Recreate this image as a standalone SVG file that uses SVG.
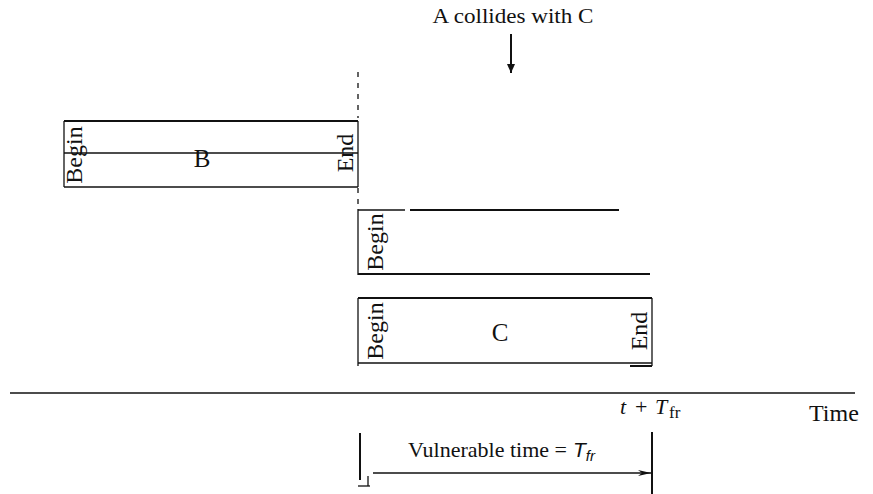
<svg xmlns="http://www.w3.org/2000/svg" width="873" height="494" viewBox="0 0 873 494">
<style>
text{font-family:"Liberation Serif","Times New Roman",serif;fill:#111}
.ln{stroke:#111;fill:none;stroke-width:1.3}
.thk{stroke:#111;fill:none;stroke-width:2}
.lbl{font-size:25px}
.rot{font-size:24px}
</style>
<defs>
<marker id="ah" markerWidth="10" markerHeight="10" refX="9" refY="5" orient="auto" markerUnits="userSpaceOnUse">
<path d="M0,1 L9,5 L0,9 Z" fill="#111"/>
</marker>
<marker id="ahs" markerWidth="14" markerHeight="8" refX="13" refY="4" orient="auto" markerUnits="userSpaceOnUse">
<path d="M0,1 L13,4 L0,7 L4,4 Z" fill="#111"/>
</marker>
</defs>
<rect width="873" height="494" fill="#fff"/>

<g id="title">
<text x="513" y="23" text-anchor="middle" style="font-size:21px" textLength="161" lengthAdjust="spacingAndGlyphs">A collides with C</text>
</g>

<g id="connectors">
<line class="thk" x1="511" y1="34" x2="511" y2="73" marker-end="url(#ah)"/>
<line class="ln" x1="358" y1="72" x2="358" y2="118" stroke-dasharray="5,6"/>
<line class="ln" x1="358" y1="188" x2="358" y2="206" stroke-dasharray="5,6"/>
<line class="ln" x1="373" y1="473" x2="651" y2="473" marker-end="url(#ahs)"/>
</g>

<g id="frame-B">
<line class="thk" x1="64" y1="121" x2="358" y2="121"/>
<line class="ln" x1="64" y1="187" x2="358" y2="187"/>
<line class="ln" x1="64" y1="121" x2="64" y2="187"/>
<line class="ln" x1="358" y1="121" x2="358" y2="187"/>
<line class="ln" x1="64" y1="153" x2="358" y2="153"/>
<text class="rot" transform="translate(82,155) rotate(-90)" text-anchor="middle">Begin</text>
<text class="lbl" x="202" y="167" text-anchor="middle">B</text>
<text class="rot" transform="translate(353,153) rotate(-90)" text-anchor="middle">End</text>
</g>

<g id="frame-A">
<line class="ln" x1="358" y1="210" x2="405" y2="210"/>
<line class="thk" x1="410" y1="210" x2="619" y2="210"/>
<line class="thk" x1="358" y1="274" x2="650" y2="274"/>
<line class="ln" x1="358" y1="209" x2="358" y2="275"/>
<text class="rot" transform="translate(383,242) rotate(-90)" text-anchor="middle">Begin</text>
</g>

<g id="frame-C">
<line class="thk" x1="358" y1="298" x2="652" y2="298"/>
<line class="ln" x1="358" y1="363" x2="652" y2="363"/>
<line class="ln" x1="358" y1="298" x2="358" y2="366"/>
<line class="ln" x1="652" y1="298" x2="652" y2="366"/>
<line class="thk" x1="630" y1="366" x2="652" y2="366"/>
<text class="rot" transform="translate(383,331) rotate(-90)" text-anchor="middle">Begin</text>
<text class="lbl" x="500" y="341" text-anchor="middle">C</text>
<text class="rot" transform="translate(647,331) rotate(-90)" text-anchor="middle">End</text>
</g>

<g id="time-axis">
<line class="ln" x1="10" y1="393" x2="855" y2="393"/>
<text x="620" y="414" style="font-size:22px;font-style:italic">t</text>
<text x="635" y="414" style="font-size:22px">+</text>
<text x="655" y="414" style="font-size:22px;font-style:italic">T</text>
<text x="669" y="418" style="font-size:17px">fr</text>
<text x="809" y="421" style="font-size:24px">Time</text>
</g>

<g id="vulnerable">
<line class="thk" x1="360" y1="433" x2="360" y2="480"/>
<line class="ln" x1="368" y1="476" x2="368" y2="486"/>
<line class="ln" x1="358" y1="486" x2="370" y2="486"/>
<line class="thk" x1="652" y1="432" x2="652" y2="494"/>
<text x="408" y="457" style="font-size:21px" textLength="159" lengthAdjust="spacingAndGlyphs">Vulnerable time =</text>
<text x="573" y="457" style="font-family:'Liberation Sans',Arial,sans-serif;font-size:21px;font-style:italic">T<tspan dy="4" style="font-size:15px">fr</tspan></text>
</g>
</svg>
